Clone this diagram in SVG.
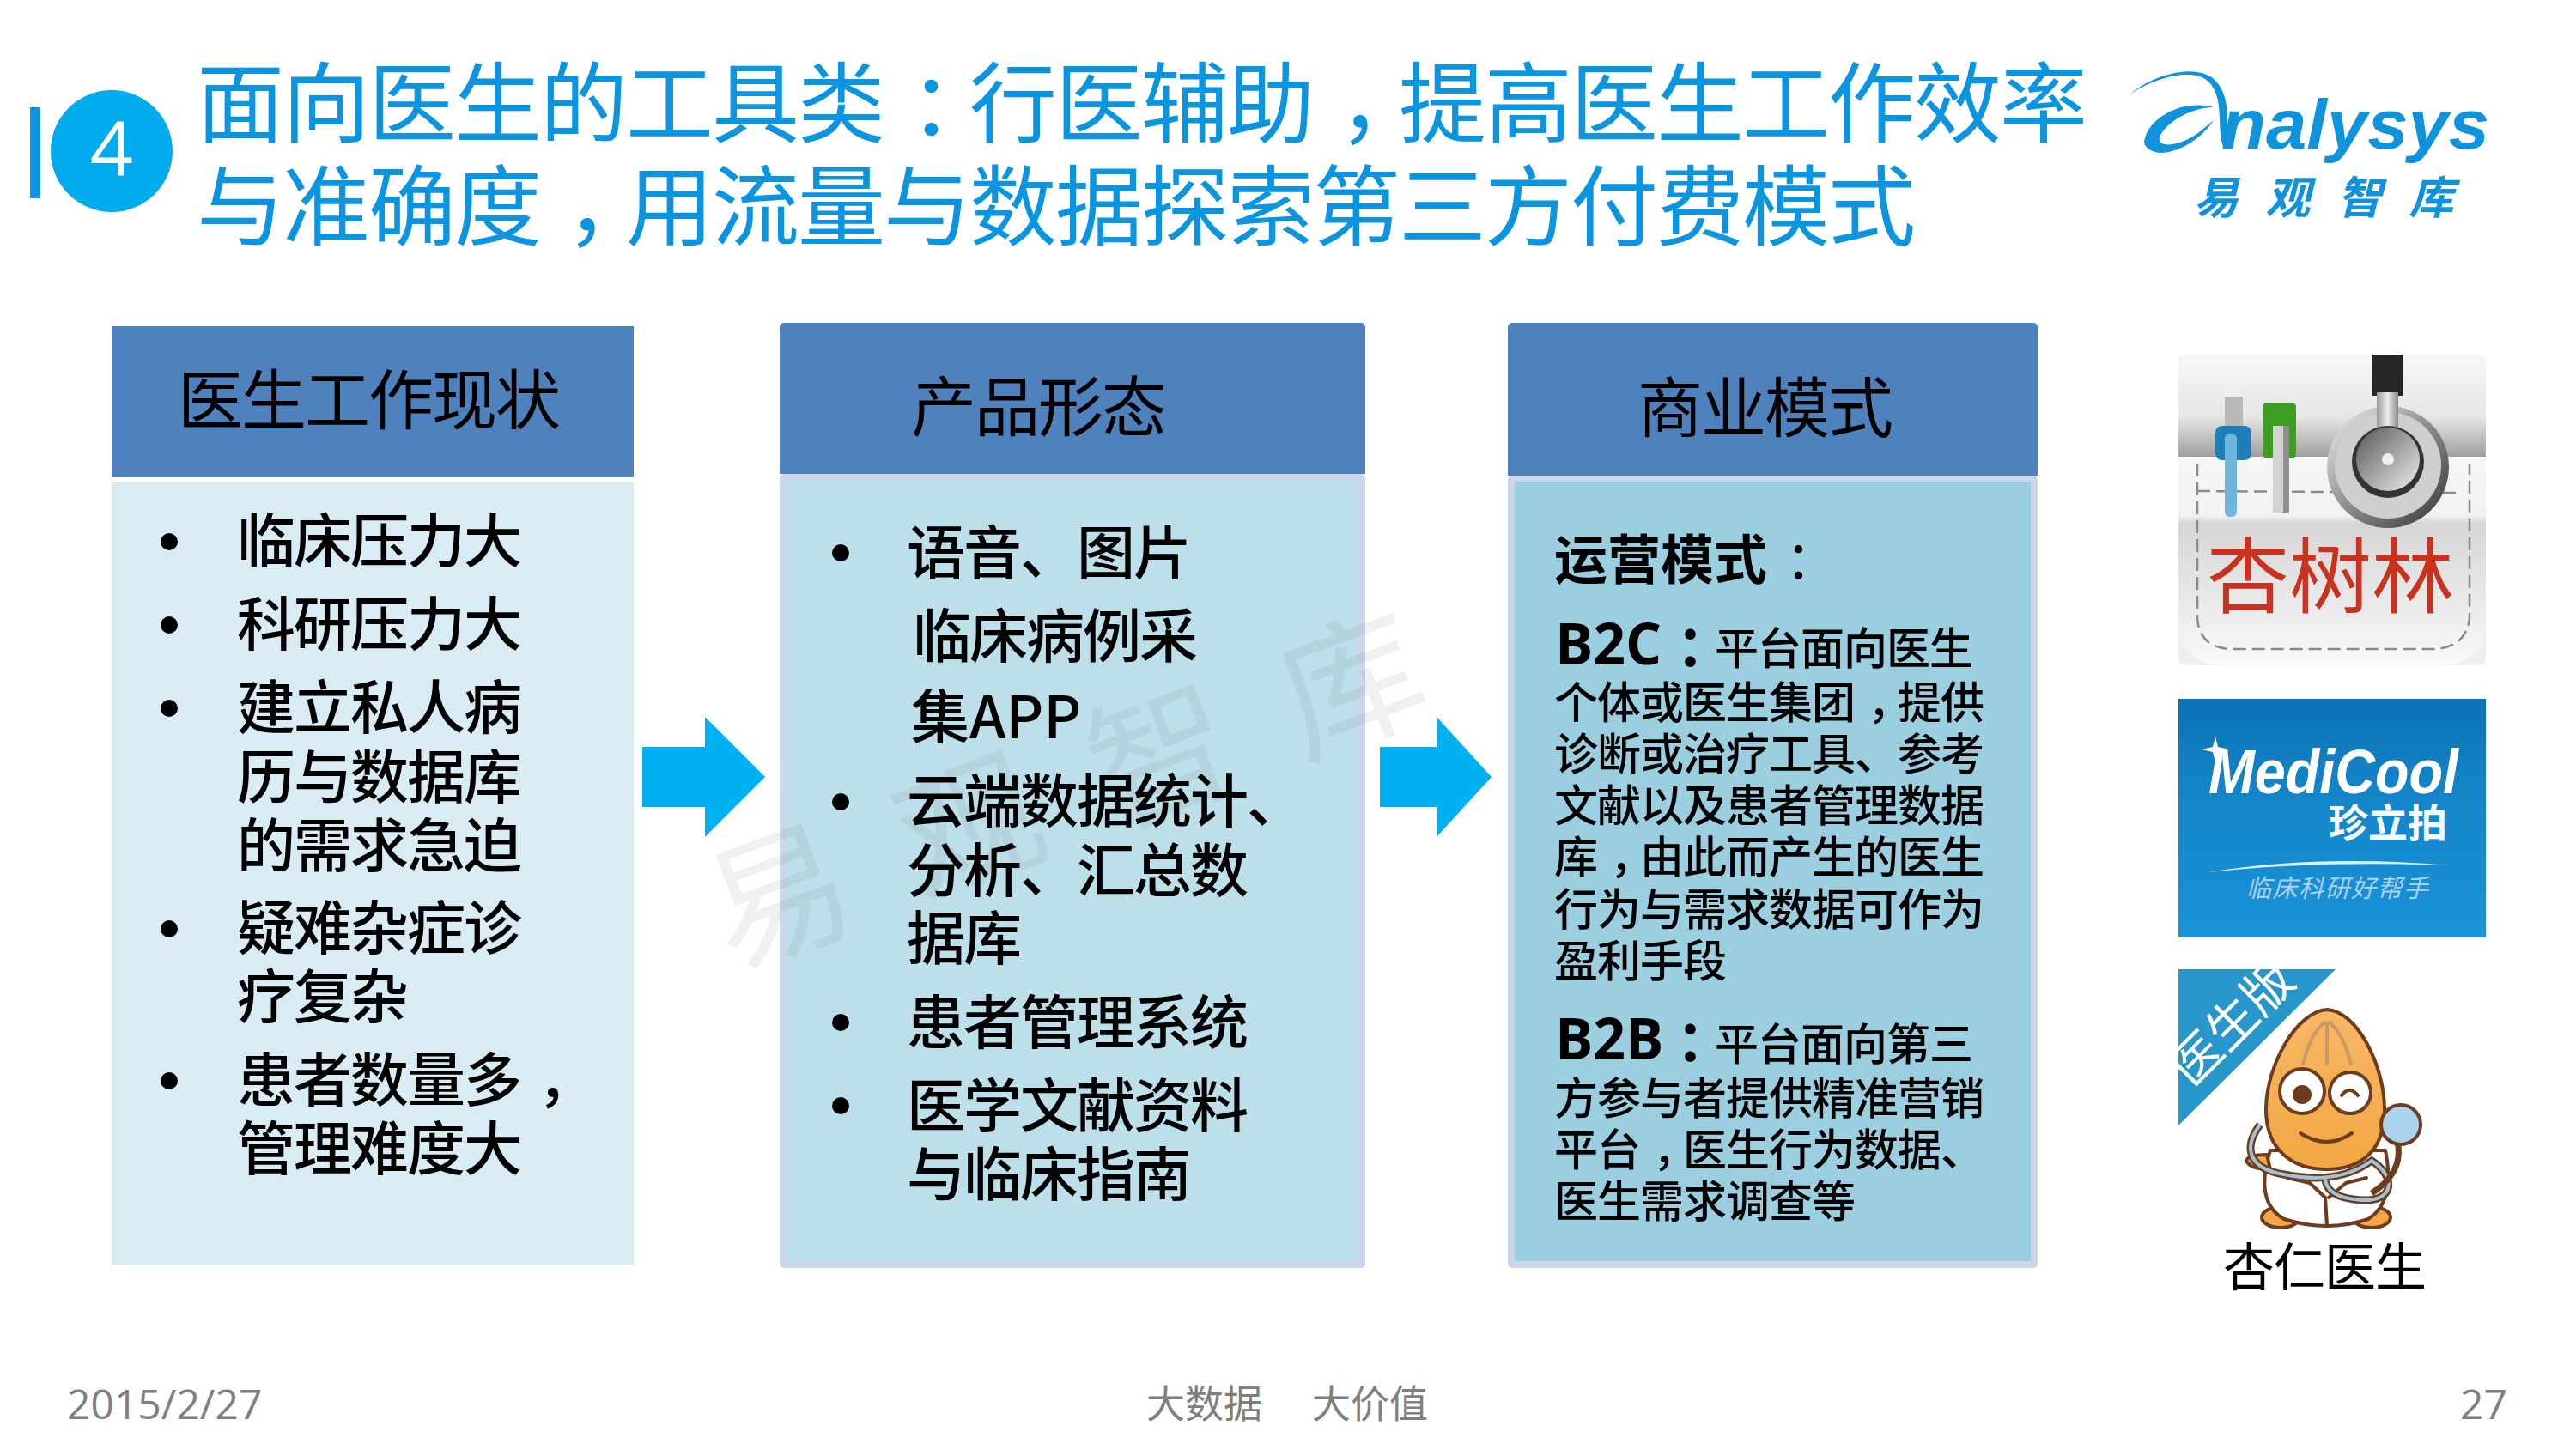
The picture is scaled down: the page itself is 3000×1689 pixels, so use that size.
<svg xmlns="http://www.w3.org/2000/svg" width="3000" height="1689" viewBox="0 0 3000 1689">
<style>
text{font-family:"Noto Sans CJK SC","Noto Sans",sans-serif;fill:#000}
.title{font-size:102px;letter-spacing:-2px;fill:#0b94e0}
.hd{font-size:76px;letter-spacing:-2px}
.t66{font-size:68px;letter-spacing:-2px;font-weight:500}
.t50{font-size:51px;letter-spacing:-1px;font-weight:500}
.lat{font-family:"Open Sans","Noto Sans",sans-serif;font-size:66px;font-weight:700}
.b{font-weight:700}
.foot{font-family:"Open Sans","Noto Sans",sans-serif;font-size:48px;fill:#7f7f7f}
.footc{font-size:45px;fill:#7f7f7f}
.head{fill:#4f81bd}
.dot{fill:#000}
.arrow{fill:#00b0f0}
.mk{fill:#777;fill-opacity:.11;font-size:165px;letter-spacing:72px}
.ol{stroke:#6e3c1e;stroke-width:4;stroke-linejoin:round;stroke-linecap:round}
.stitch{fill:none;stroke:#8a8a8a;stroke-width:2.5;stroke-dasharray:15 7}
</style>
<defs>
<linearGradient id="gTop" x1="0" y1="0" x2="0" y2="1"><stop offset="0" stop-color="#f8f8f8"/><stop offset=".2" stop-color="#e6e6e6"/><stop offset=".36" stop-color="#8e8e8e"/><stop offset=".37" stop-color="#eee"/><stop offset="1" stop-color="#eee"/></linearGradient>
<linearGradient id="gPocket" x1="0" y1="0" x2="0" y2="1"><stop offset="0" stop-color="#f6f6f6"/><stop offset=".28" stop-color="#f2f2f2"/><stop offset=".32" stop-color="#d6d6d6"/><stop offset=".75" stop-color="#ececec"/><stop offset="1" stop-color="#fafafa"/></linearGradient>
<linearGradient id="gMetal" x1="0" y1="0" x2="1" y2="1"><stop offset="0" stop-color="#f2f2f2"/><stop offset=".5" stop-color="#8c8c8c"/><stop offset="1" stop-color="#333"/></linearGradient>
<linearGradient id="gMetal2" x1="0" y1="0" x2="1" y2="1"><stop offset="0" stop-color="#555"/><stop offset=".55" stop-color="#aaa"/><stop offset="1" stop-color="#eee"/></linearGradient>
<linearGradient id="gStem" x1="0" y1="0" x2="1" y2="0"><stop offset="0" stop-color="#999"/><stop offset=".5" stop-color="#eee"/><stop offset="1" stop-color="#888"/></linearGradient>
<linearGradient id="gMc" x1="0" y1="0" x2="0" y2="1"><stop offset="0" stop-color="#0a72b6"/><stop offset=".35" stop-color="#1383c6"/><stop offset="1" stop-color="#1a93d8"/></linearGradient>
<linearGradient id="gAlm" x1="0" y1="0" x2="0" y2="1"><stop offset="0" stop-color="#f7b765"/><stop offset="1" stop-color="#f3a744"/></linearGradient>
</defs>
<rect width="3000" height="1689" fill="#fff"/>

<g id="title">
<rect x="35" y="125" width="12" height="106" fill="#0b94e0"/>
<circle cx="130" cy="176" r="71" fill="#00acee"/>
<text x="130" y="205" text-anchor="middle" style="font-family:'Open Sans',sans-serif;font-size:88px;font-weight:400;fill:#fff">4</text>
<text class="title" x="229" y="158">面向医生的工具类<tspan dx="30">：</tspan><tspan dx="-30">行</tspan>医辅助<tspan dx="30">，</tspan><tspan dx="-30">提</tspan>高医生工作效率</text>
<text class="title" x="229" y="278">与准确度<tspan dx="30">，</tspan><tspan dx="-30">用</tspan>流量与数据探索第三方付费模式</text>
</g>

<g id="logo-analysys">
<path d="M2480 110 C2510 90 2555 78 2572 95 C2592 115 2580 150 2590 173 L2596 173 C2592 145 2600 112 2578 92 C2556 74 2508 86 2480 110 Z" fill="#0f93dc"/>
<path d="M2498 161 C2505 135 2545 115 2578 125 C2550 125 2520 145 2515 160 C2512 172 2535 172 2560 155 L2578 140 C2560 168 2525 182 2510 177 C2500 174 2495 168 2498 161 Z" fill="#0f93dc"/>
<text x="2587" y="173" textLength="312" lengthAdjust="spacingAndGlyphs" style="font-family:'Liberation Sans',sans-serif;font-size:82px;font-weight:700;font-style:italic;fill:#0f93dc">nalysys</text>
<text x="2555" y="249" style="font-size:52px;font-weight:700;font-style:italic;letter-spacing:31.5px;fill:#0f93dc">易观智库</text>
</g>

<g id="col1">
<rect class="head" x="130" y="380" width="608" height="176"/>
<rect x="130" y="561" width="608" height="912" fill="#d9ecf4"/>
<text class="hd" x="207" y="494">医生工作现状</text>
<text class="t66" x="276" y="655">临床压力大</text>
<text class="t66" x="276" y="752">科研压力大</text>
<text class="t66" x="276" y="849">建立私人病</text>
<text class="t66" x="276" y="930">历与数据库</text>
<text class="t66" x="276" y="1010">的需求急迫</text>
<text class="t66" x="276" y="1106">疑难杂症诊</text>
<text class="t66" x="276" y="1186">疗复杂</text>
<text class="t66" x="276" y="1283">患者数量多<tspan dx="20">，</tspan></text>
<text class="t66" x="276" y="1363">管理难度大</text>
<circle class="dot" cx="197" cy="631" r="10"/><circle class="dot" cx="197" cy="728" r="10"/><circle class="dot" cx="197" cy="825" r="10"/><circle class="dot" cx="197" cy="1082" r="10"/><circle class="dot" cx="197" cy="1259" r="10"/>
</g>

<g id="col2">
<rect x="908" y="552" width="682" height="925" rx="5" fill="#ccd6e6"/>
<rect x="916" y="560" width="666" height="909" fill="#bcdfea"/>
<path class="head" d="M908 381a5 5 0 0 1 5-5h672a5 5 0 0 1 5 5v171h-682z"/>
</g>

<g id="col3">
<rect x="1756" y="554" width="617" height="923" rx="5" fill="#ccd6e6"/>
<rect x="1764" y="561" width="601" height="908" fill="#9bcfe0"/>
<path class="head" d="M1756 381a5 5 0 0 1 5-5h607a5 5 0 0 1 5 5v173h-617z"/>
</g>

<text class="mk" x="803" y="981" transform="rotate(-20.3 1241 923)">易观智库</text>

<g id="col2-text">
<text class="hd" x="1061" y="502">产品形态</text>
<text class="t66" x="1056" y="669">语音、图片</text>
<text class="t66" x="1063" y="766">临床病例采</text>
<text class="t66" x="1061" y="860" style="letter-spacing:0">集APP</text>
<text class="t66" x="1056" y="958">云端数据统计、</text>
<text class="t66" x="1056" y="1039">分析、汇总数</text>
<text class="t66" x="1056" y="1118">据库</text>
<text class="t66" x="1056" y="1216">患者管理系统</text>
<text class="t66" x="1056" y="1313">医学文献资料</text>
<text class="t66" x="1056" y="1393">与临床指南</text>
<circle class="dot" cx="979" cy="644" r="10"/><circle class="dot" cx="979" cy="934" r="10"/><circle class="dot" cx="979" cy="1191" r="10"/><circle class="dot" cx="979" cy="1288" r="10"/>
</g>

<g id="col3-text">
<text class="hd" x="1907" y="503">商业模式</text>
<text x="1810" y="675" style="font-size:62px"><tspan class="b">运营模式</tspan><tspan dx="21" style="font-weight:400">：</tspan></text>
<text class="lat" x="1811" y="774">B2C</text>
<text class="b" x="1952" y="776" style="font-size:66px">：</text>
<text class="t50" x="1997" y="774">平台面向医生</text>
<text class="t50" x="1810" y="837">个体或医生集团<tspan dx="15">，</tspan><tspan dx="-15">提</tspan>供</text>
<text class="t50" x="1810" y="897">诊断或治疗工具、参考</text>
<text class="t50" x="1810" y="957">文献以及患者管理数据</text>
<text class="t50" x="1810" y="1017">库<tspan dx="15">，</tspan><tspan dx="-15">由</tspan>此而产生的医生</text>
<text class="t50" x="1810" y="1078">行为与需求数据可作为</text>
<text class="t50" x="1810" y="1138">盈利手段</text>
<text class="lat" x="1811" y="1234">B2B</text>
<text class="b" x="1952" y="1236" style="font-size:66px">：</text>
<text class="t50" x="1997" y="1235">平台面向第三</text>
<text class="t50" x="1810" y="1298">方参与者提供精准营销</text>
<text class="t50" x="1810" y="1358">平台<tspan dx="15">，</tspan><tspan dx="-15">医</tspan>生行为数据、</text>
<text class="t50" x="1810" y="1418">医生需求调查等</text>
</g>

<g id="connectors">
<polygon class="arrow" points="748,870 821,870 821,835 891,905 821,975 821,940 748,940"/>
<polygon class="arrow" points="1607,870 1673,870 1673,835 1737,905 1673,975 1673,940 1607,940"/>
</g>

<g id="icon-xingshulin">
<rect x="2537" y="413" width="358" height="362" rx="6" fill="url(#gTop)"/>
<path d="M2537 532 L2895 532 L2895 730 Q2890 775 2840 775 L2592 775 Q2542 775 2537 730 Z" fill="url(#gPocket)"/>
<path class="stitch" d="M2559 540 L2559 720 Q2562 756 2600 756 L2835 756 Q2872 754 2876 720 L2876 540"/>
<path class="stitch" d="M2559 572 L2860 574"/>
<rect x="2591" y="462" width="21" height="36" fill="#b9b9b9"/>
<rect x="2580" y="496" width="42" height="40" rx="8" fill="#1d7fb6"/>
<rect x="2591" y="505" width="14" height="97" rx="6" fill="#6db6dd"/>
<rect x="2635" y="469" width="39" height="65" rx="5" fill="#3f9c24"/>
<rect x="2647" y="496" width="19" height="101" fill="#d2d2d2"/>
<rect x="2659" y="496" width="7" height="101" fill="#8f8f8f"/>
<rect x="2763" y="413" width="35" height="48" fill="#262626"/>
<circle cx="2781" cy="544" r="71" fill="url(#gMetal)"/>
<circle cx="2781" cy="542" r="62" fill="#cfcfcf"/>
<rect x="2768" y="457" width="25" height="50" fill="url(#gStem)"/>
<circle cx="2781" cy="538" r="42" fill="#333"/>
<circle cx="2781" cy="535" r="37" fill="url(#gMetal2)"/>
<circle cx="2781" cy="535" r="7" fill="#eee"/>
<text x="2570" y="706" style="font-size:96px;fill:#c8321e;font-weight:400">杏树林</text>
</g>

<g id="icon-medicool">
<rect x="2537" y="814" width="358" height="278" fill="url(#gMc)"/>
<text x="2572" y="924" textLength="291" lengthAdjust="spacingAndGlyphs" style="font-family:'Liberation Sans',sans-serif;font-size:72px;font-weight:700;font-style:italic;fill:#fff">MediCool</text>
<path d="M2580 858 L2583 870 L2596 873 L2583 876 L2580 888 L2577 876 L2564 873 L2577 870 Z" fill="#fff"/>
<text x="2712" y="975" style="font-size:46px;font-weight:700;fill:#f2f8fc">珍立拍</text>
<path d="M2572 1016 Q2700 995 2852 1008 Q2700 1002 2572 1016 Z" fill="#dff0fa"/>
<text x="2616" y="1045" style="font-size:29px;font-style:italic;fill:#a9d2ea;letter-spacing:1.5px">临床科研好帮手</text>
</g>

<g id="icon-xingren">
<polygon points="2537,1129 2720,1129 2537,1311" fill="#2796cb"/>
<text x="2600" y="1212" text-anchor="middle" transform="rotate(-45 2600 1192)" style="font-size:58px;fill:#fff">医生版</text>
<ellipse class="ol" cx="2656" cy="1418" rx="22" ry="12" fill="#f3a744"/>
<ellipse class="ol" cx="2762" cy="1418" rx="22" ry="12" fill="#f3a744"/>
<path class="ol" d="M2644 1340 Q2625 1400 2660 1420 Q2710 1436 2758 1420 Q2790 1400 2778 1340 Z" fill="#fff"/>
<path class="ol" d="M2640 1345 Q2618 1345 2616 1352 Q2620 1362 2644 1362 Z" fill="#f3a744"/>
<path class="ol" d="M2710 1176 C2675 1178 2640 1240 2639 1290 C2638 1340 2670 1362 2710 1362 C2750 1362 2778 1340 2777 1290 C2776 1240 2745 1178 2710 1176 Z" fill="url(#gAlm)"/>
<path d="M2682 1240 Q2690 1205 2708 1190 M2710 1190 L2710 1240 M2712 1190 Q2730 1205 2738 1240" fill="none" stroke="#c99a68" stroke-width="4"/>
<path class="ol" d="M2664 1372 L2690 1378 L2708 1395 L2710 1428 M2756 1372 L2732 1378 L2712 1395" fill="none"/>
<circle class="ol" cx="2681" cy="1271" r="26" fill="#fff"/>
<circle class="ol" cx="2737" cy="1273" r="24" fill="#fff"/>
<circle cx="2681" cy="1275" r="11" fill="#6b3a20"/>
<path class="ol" d="M2727 1276 Q2736 1264 2746 1276" fill="none"/>
<path class="ol" d="M2679 1320 Q2710 1340 2739 1320" fill="none"/>
<path d="M2632 1310 C2610 1340 2622 1362 2660 1368 C2700 1376 2735 1372 2762 1352 C2790 1370 2790 1400 2750 1398 C2722 1396 2708 1388 2708 1372" fill="none" stroke="#6e3c1e" stroke-width="9"/>
<path d="M2632 1310 C2610 1340 2622 1362 2660 1368 C2700 1376 2735 1372 2762 1352 C2790 1370 2790 1400 2750 1398 C2722 1396 2708 1388 2708 1372" fill="none" stroke="#9fc4d8" stroke-width="4"/>
<path d="M2792 1330 Q2800 1365 2762 1390" fill="none" stroke="#6e3c1e" stroke-width="7"/>
<circle class="ol" cx="2796" cy="1310" r="23" fill="#a9d3ef" stroke-width="5"/>
<text x="2589" y="1498" style="font-size:60px;letter-spacing:-1px">杏仁医生</text>
</g>

<g id="footer">
<text class="foot" x="78" y="1653">2015/2/27</text>
<text class="footc" x="1335" y="1652">大数据</text>
<text class="footc" x="1528" y="1652">大价值</text>
<text class="foot" x="2920" y="1653" text-anchor="end">27</text>
</g>
</svg>
